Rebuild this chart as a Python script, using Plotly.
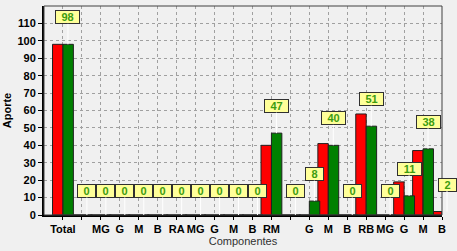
import plotly.graph_objects as go

categories = ['Total', '', 'MG', 'G', 'M', 'B', 'RA', 'MG', 'G', 'M', 'B', 'RM',
              '', 'G', 'M', 'B', 'RB', 'MG', 'G', 'M', 'B']
red_values = [98, 0, 0, 0, 0, 0, 0, 0, 0, 0, 0, 40, 0, 0, 41, 0, 58, 0, 19, 37, 2]
green_values = [98, 0, 0, 0, 0, 0, 0, 0, 0, 0, 0, 47, 0, 8, 40, 0, 51, 0, 11, 38, 2]
y_ticks = list(range(0, 111, 10))

idx = list(range(len(categories)))
BW = 0.55

fig = go.Figure()
fig.add_trace(go.Bar(x=idx, y=red_values, width=BW, offset=-BW,
                     marker=dict(color='#ff0000', line=dict(color='#202020', width=1)),
                     showlegend=False))
fig.add_trace(go.Bar(x=idx, y=green_values, width=BW, offset=0,
                     marker=dict(color='#008000', line=dict(color='#202020', width=1)),
                     showlegend=False))

for i, v in zip(idx, green_values):
    txt = str(v)
    fig.add_annotation(x=i, y=v, xref='x', yref='y', text='<b>%s</b>' % txt,
                       showarrow=True, arrowhead=0, arrowwidth=1, arrowcolor='white',
                       ax=0, ay=(-27 if v > 0 else -24), xshift=5,
                       bgcolor='#ffff99', bordercolor='#303030', borderwidth=1, borderpad=1,
                       width=(9 + 6 * len(txt)), height=10,
                       font=dict(family='Liberation Sans, Arial', size=11, color='#3c9c10'))

fig.add_shape(type='rect', xref='paper', yref='paper', x0=0, y0=0, x1=1, y1=1,
              line=dict(color='#404040', width=1), layer='above')

fig.update_layout(
    width=457, height=251,
    margin=dict(l=38, r=15, t=6, b=35),
    paper_bgcolor='#f0f0f0', plot_bgcolor='#f0f0f0',
    barmode='overlay',
    font=dict(family='Liberation Sans, Arial', size=11, color='black'),
    xaxis=dict(range=[-1, 20], tickmode='array', tickvals=idx, ticktext=['<b>%s</b>' % c for c in categories],
               showgrid=True, gridcolor='#a0a0a0', griddash='3px,3px', gridwidth=1,
               showline=True, linecolor='black', linewidth=2, ticks='outside', ticklen=3,
               tickcolor='black', zeroline=False,
               title=dict(text='Componentes', standoff=2, font=dict(size=11, color='#303030'))),
    yaxis=dict(range=[0, 120], tickmode='array', tickvals=y_ticks,
               ticktext=['<b>%d</b>' % t for t in y_ticks],
               showgrid=True, gridcolor='#a0a0a0', griddash='3px,3px', gridwidth=1,
               showline=True, linecolor='black', linewidth=2, ticks='outside', ticklen=4,
               tickcolor='black', zeroline=False,
               title=dict(text='<b>Aporte</b>', standoff=4, font=dict(size=11))),
)

fig.write_html('out.html')
